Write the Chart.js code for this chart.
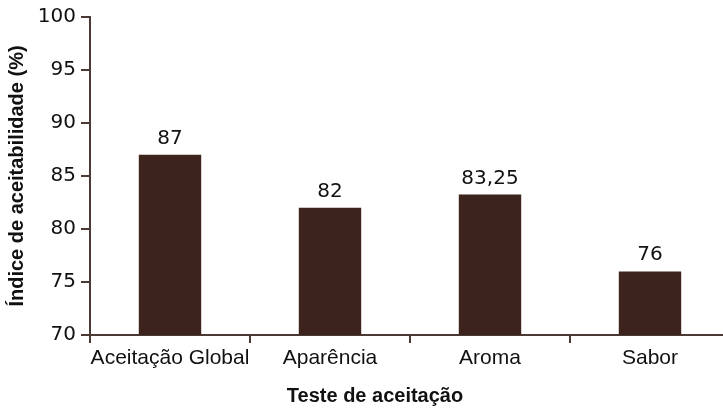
<!DOCTYPE html>
<html>
<head>
<meta charset="utf-8">
<script src="https://cdn.jsdelivr.net/npm/chart.js@4"></script>
<style>
  html, body { margin: 0; padding: 0; background: #fff; overflow: hidden; }
  #wrap { width: 730px; height: 411px; }
</style>
</head>
<body>
<div id="wrap"><canvas id="grafico"></canvas></div>
<script>
// datos del grafico
var categorias = ['Aceitação Global', 'Aparência', 'Aroma', 'Sabor'];
var valores = [87, 82, 83.25, 76];
var yMin = 70, yMax = 100, yPaso = 5;

var corBarra = '#3c231b';
var corEixo = '#4a3a33';

// rotulos encima de las barras
var rotulos = {
    id: 'rotulos',
    afterDatasetsDraw: function (chart) {
        var ctx = chart.ctx;
        var meta = chart.getDatasetMeta(0);
        ctx.save();
        ctx.font = '20px "DejaVu Sans"';
        ctx.fillStyle = '#111';
        ctx.textAlign = 'center';
        ctx.textBaseline = 'alphabetic';
        meta.data.forEach(function (barra, i) {
            var txt = String(valores[i]).replace('.', ',');
            ctx.fillText(txt, barra.x, barra.y - 11);
        });
        ctx.restore();
    }
};

var ctx = document.getElementById('grafico').getContext('2d');
var myChart = new Chart(ctx, {
    type: 'bar',
    data: {
        labels: categorias,
        datasets: [{
            data: valores,
            backgroundColor: corBarra,
            borderWidth: 0,
            barPercentage: 0.39,
            categoryPercentage: 1
        }]
    },
    options: {
        responsive: true,
        maintainAspectRatio: false,
        animation: false,
        layout: { padding: { left: 20, right: 0, top: 15, bottom: 0 } },
        plugins: {
            legend: { display: false },
            tooltip: { enabled: false },
            title: {
                display: true,
                position: 'bottom',
                text: 'Teste de aceitação',
                color: '#111',
                font: { family: '"Liberation Sans"', size: 20, weight: 'bold' },
                padding: { top: 0, bottom: 3 }
            }
        },
        scales: {
            x: {
                afterFit: function (s) { s.height = 49; },
                border: { color: corEixo, width: 2 },
                grid: { drawOnChartArea: false, drawTicks: true, tickLength: 8, color: corEixo, lineWidth: 2, offset: true },
                ticks: {
                    color: '#111',
                    padding: 3,
                    maxRotation: 0,
                    minRotation: 0,
                    autoSkip: false,
                    font: { family: '"Liberation Sans"', size: 21 }
                }
            },
            y: {
                min: yMin,
                max: yMax,
                afterFit: function (s) { s.width = 70; },
                border: { color: corEixo, width: 2 },
                grid: { drawOnChartArea: false, drawTicks: true, tickLength: 9, color: corEixo, lineWidth: 2 },
                ticks: {
                    stepSize: yPaso,
                    color: '#111',
                    padding: 5,
                    font: { family: '"DejaVu Sans"', size: 20 }
                },
                title: {
                    display: true,
                    text: 'Índice de aceitabilidade (%)',
                    color: '#111',
                    font: { family: '"Liberation Sans"', size: 20, weight: 'bold' },
                    padding: { top: -15, bottom: 0 }
                }
            }
        }
    },
    plugins: [rotulos]
});
</script>
</body>
</html>
